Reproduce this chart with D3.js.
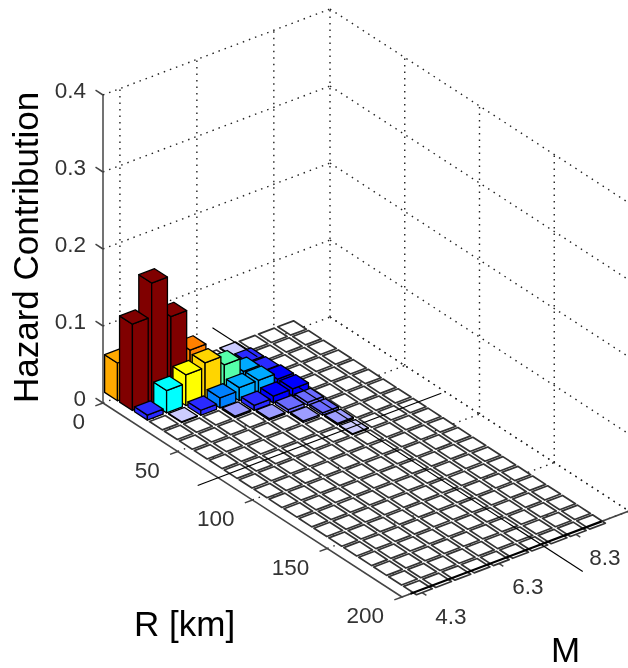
<!doctype html>
<html lang="en">
<head>
<meta charset="utf-8">
<script src="https://cdn.jsdelivr.net/npm/d3@7"></script>
<style type="text/css">
html, body { margin: 0; padding: 0; background: #fff; }
svg { display: block; filter: blur(0.65px); font-family: "Liberation Sans", Arial, sans-serif; }
.tick-label { font-size: 22.5px; fill: #333; }
.title { font-size: 35px; fill: #000; }
</style>
</head>
<body>
<svg width="628" height="668"></svg>
<script>
// Bin centres of the histogram
var rBins = d3.range(0, 201, 10);
var mBins = [4.3, 4.8, 5.3, 5.8, 6.3, 6.8, 7.3, 7.8, 8.3, 8.8];

// Hazard contribution per R row, one value per M bin (rows not listed are all zero)
var row0 = [0.049, 0, 0, 0, 0, 0, 0.001, 0, 0, 0];
var row10 = [0.112, 0.156, 0.103, 0.05, 0.02, 0.008, 0.006, 0, 0, 0];
var row20 = [0.0065, 0.029, 0.04, 0.046, 0.034, 0.016, 0.007, 0, 0, 0];
var row30 = [0, 0.001, 0.0065, 0.013, 0.017, 0.017, 0.009, 0, 0, 0];
var row40 = [0, 0, 0, 0.002, 0.0065, 0.009, 0.009, 0, 0, 0];
var row50 = [0, 0, 0, 0, 0.002, 0.004, 0.004, 0, 0, 0];
var row60 = [0, 0, 0, 0, 0, 0.002, 0.003, 0, 0, 0];
var row70 = [0, 0, 0, 0, 0, 0, 0.002, 0, 0, 0];
var row80 = [0, 0, 0, 0, 0, 0, 0.001, 0, 0, 0];
var rows = [row0, row10, row20, row30, row40, row50, row60, row70, row80];

var rTicks = [0, 50, 100, 150, 200];
var mTicks = [4.3, 6.3, 8.3];
var zTicks = [0, 0.1, 0.2, 0.3, 0.4];

// Axis limits of the plot box
var rLim = [0, 200], mLim = [3.86, 9.76], zLim = [0, 0.4];

// The two black marker lines on the floor
var meanM = [[7.56, -22, 8], [7.47, 38, 228]];   // [M, R from, R to]
var meanR = [77, 3.33, 9.66];                    // [R, M from, M to]

var color = d3.scaleThreshold()
    .domain([1e-9, 0.0015, 0.0025, 0.005, 0.0075, 0.0105, 0.015, 0.02, 0.031, 0.036, 0.0425, 0.048, 0.0495, 0.06])
    .range(["#ffffff", "#ccccff", "#9d9dff", "#6b6bff", "#2a2aff", "#0000ff", "#0080ff", "#00aaff",
            "#00ffff", "#55ffaa", "#ffff00", "#ffd500", "#ffaa00", "#ff8000", "#800000"]);

// Oblique projection of the MATLAB view
var rx = d3.scaleLinear().domain(rLim).range([0, 299]),
    ry = d3.scaleLinear().domain(rLim).range([0, 194]),
    mx = d3.scaleLinear().domain(mLim).range([0, 227]),
    my = d3.scaleLinear().domain(mLim).range([0, -86]),
    zy = d3.scaleLinear().domain(zLim).range([0, -308]);

var originX = 103, originY = 403;

function project(r, m, z) {
    return [originX + rx(r) + mx(m), originY + ry(r) + my(m) + zy(z || 0)];
}

var svg = d3.select("svg");
var line = d3.line();

function seg(g, a, b) {
    return g.append("path").attr("d", line([a, b]));
}

// Dotted box grid
var dotted = svg.append("g")
    .attr("fill", "none").attr("stroke", "#222").attr("stroke-width", 1.4)
    .attr("stroke-dasharray", "1.5,5");

zTicks.forEach(function(z) {
    seg(dotted, project(rLim[0], mLim[0], z), project(rLim[0], mLim[1], z));
    seg(dotted, project(rLim[0], mLim[1], z), project(rLim[1], mLim[1], z));
});
mTicks.concat([mLim[1]]).forEach(function(m) {
    seg(dotted, project(rLim[0], m, 0), project(rLim[0], m, zLim[1]));
    seg(dotted, project(rLim[0], m, 0), project(rLim[1], m, 0));
});
rTicks.slice(1).forEach(function(r) {
    seg(dotted, project(r, mLim[1], 0), project(r, mLim[1], zLim[1]));
    seg(dotted, project(r, mLim[0], 0), project(r, mLim[1], 0));
});

// Axis lines and ticks
var axes = svg.append("g").attr("fill", "none").attr("stroke", "#444").attr("stroke-width", 1.5);
seg(axes, project(0, mLim[0], 0), project(0, mLim[0], zLim[1]));
seg(axes, project(0, mLim[0], 0), project(200, mLim[0], 0));
seg(axes, project(200, mLim[0], 0), project(200, mLim[1], 0));
zTicks.forEach(function(z) {
    seg(axes, project(0, mLim[0], z), project(-5, mLim[0], z));
});
rTicks.forEach(function(r) {
    seg(axes, project(r, mLim[0], 0), project(r, mLim[0] - 0.2, 0));
});
mTicks.forEach(function(m) {
    seg(axes, project(200, m, 0), project(205, m, 0));
});

// Bars, far ones first
var halfR = 4.3, halfM = 0.205;
var shiftX = -1, shiftY = -3;

var cells = [];
mBins.slice().reverse().forEach(function(m) {
    rBins.forEach(function(r, i) {
        var j = mBins.indexOf(m);
        cells.push({ r: r, m: m, v: rows[i] ? rows[i][j] : 0 });
    });
});

var bars = svg.append("g").attr("transform", "translate(" + shiftX + "," + shiftY + ")");

function poly(pts) { return pts.map(function(p) { return p.join(","); }).join(" "); }

var bar = bars.selectAll("g").data(cells).join("g")
    .attr("stroke", function(d) { return d.v > 0 ? "#000" : "#333"; })
    .attr("stroke-width", function(d) { return d.v > 0 ? 1.3 : 1.7; })
    .attr("stroke-linejoin", "round")
    .attr("fill", function(d) { return color(d.v); });

// left face, right face, top
bar.filter(function(d) { return d.v > 0; }).append("polygon").attr("points", function(d) {
    return poly([project(d.r - halfR, d.m - halfM, 0), project(d.r + halfR, d.m - halfM, 0),
                 project(d.r + halfR, d.m - halfM, d.v), project(d.r - halfR, d.m - halfM, d.v)]);
});
bar.filter(function(d) { return d.v > 0; }).append("polygon").attr("points", function(d) {
    return poly([project(d.r + halfR, d.m - halfM, 0), project(d.r + halfR, d.m + halfM, 0),
                 project(d.r + halfR, d.m + halfM, d.v), project(d.r + halfR, d.m - halfM, d.v)]);
});
bar.append("polygon").attr("points", function(d) {
    return poly([project(d.r - halfR, d.m - halfM, d.v), project(d.r + halfR, d.m - halfM, d.v),
                 project(d.r + halfR, d.m + halfM, d.v), project(d.r - halfR, d.m + halfM, d.v)]);
});

// Front floor edge drawn heavy along the last row of bars
svg.append("path")
    .attr("d", line([project(200, mBins[0] - 0.22, 0), project(200, mBins[mBins.length - 1] + 0.25, 0)]))
    .attr("stroke", "#000").attr("stroke-width", 2.2).attr("fill", "none");

// Marker lines
var markers = svg.append("g").attr("stroke", "#000").attr("stroke-width", 1.1).attr("fill", "none");
meanM.forEach(function(d) {
    seg(markers, project(d[1], d[0], 0), project(d[2], d[0], 0));
});
seg(markers, project(meanR[0], meanR[1], 0), project(meanR[0], meanR[2], 0));

// Tick labels
svg.append("g").selectAll("text").data(zTicks).join("text")
    .attr("class", "tick-label").attr("text-anchor", "end")
    .attr("x", originX - 17)
    .attr("y", function(d) { return project(0, mLim[0], d)[1] + 3; })
    .text(function(d) { return d; });

svg.append("g").selectAll("text").data(rTicks).join("text")
    .attr("class", "tick-label").attr("text-anchor", "end")
    .attr("x", function(d) { return project(d, mLim[0], 0)[0] - 18; })
    .attr("y", function(d) { return project(d, mLim[0], 0)[1] + 26; })
    .text(function(d) { return d; });

svg.append("g").selectAll("text").data(mTicks).join("text")
    .attr("class", "tick-label").attr("text-anchor", "middle")
    .attr("x", function(d) { return project(200, d, 0)[0] + 32; })
    .attr("y", function(d) { return project(200, d, 0)[1] + 33; })
    .text(function(d) { return d; });

// Axis titles
svg.append("text").attr("class", "title")
    .attr("transform", "translate(38,403) rotate(-90)")
    .text("Hazard Contribution");
svg.append("text").attr("class", "title").attr("x", 134).attr("y", 636).text("R [km]");
svg.append("text").attr("class", "title").attr("x", 551).attr("y", 662).text("M");
</script>
</body>
</html>
